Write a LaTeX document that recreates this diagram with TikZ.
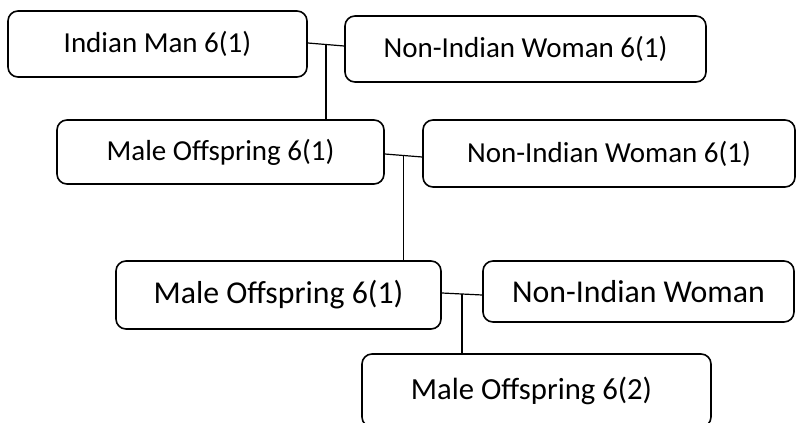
\documentclass[tikz,border=0pt]{standalone}
\usepackage{fontspec}
\setmainfont{Carlito}
\usetikzlibrary{calc}
\tikzset{
  person/.style={draw=black, line width=1.6pt, rounded corners=10pt, inner sep=0pt, fill=white, font=\fontsize{29}{34}\selectfont},
  bigperson/.style={person, font=\fontsize{31.8}{36}\selectfont},
  midperson/.style={person, font=\fontsize{30.7}{36}\selectfont},
  link/.style={draw=black, line width=1.2pt}
}
\begin{document}
\begin{tikzpicture}[x=1pt,y=-1pt]
\useasboundingbox (0,0) rectangle (796,423);
\fill[white] (0,0) rectangle (796,423);
\node[person, minimum width=299pt, minimum height=66pt] (b1) at (157.5,44) {Indian Man 6(1)};
\node[person, minimum width=361pt, minimum height=66pt] (b2) at (525.5,49) {Non-Indian Woman 6(1)};
\node[person, minimum width=327pt, minimum height=64pt] (b3) at (220.5,152) {Male Offspring 6(1)};
\node[person, minimum width=372pt, minimum height=67pt] (b4) at (609,153.5) {Non-Indian Woman 6(1)};
\node[bigperson, minimum width=325pt, minimum height=68pt] (b5) at (278.5,295) {Male Offspring 6(1)};
\node[bigperson, minimum width=311pt, minimum height=61pt] (b6) at (638.5,291.5) {Non-Indian Woman};
\node[midperson, minimum width=349pt, minimum height=73pt] (b7) at (536.5,390.5) {\hspace*{-10pt}\raisebox{-2.5pt}{Male Offspring 6(2)}};
% couple 1
\draw[link] ([yshift=1pt]b1.east) -- ([yshift=3pt]b2.west) coordinate[pos=0.5] (m1);
\draw[link] (m1) -- (m1 |- b3.north);
% couple 2
\draw[link] ([yshift=-2pt]b3.east) -- ([yshift=-3.5pt]b4.west) coordinate[pos=0.5] (m2);
\draw[link] (m2) -- (m2 |- b5.north);
% couple 3
\draw[link] ([yshift=2pt]b5.east) -- ([yshift=-3.5pt]b6.west) coordinate[pos=0.5] (m3);
\draw[link] (m3) -- (m3 |- b7.north);
\end{tikzpicture}
\end{document}
